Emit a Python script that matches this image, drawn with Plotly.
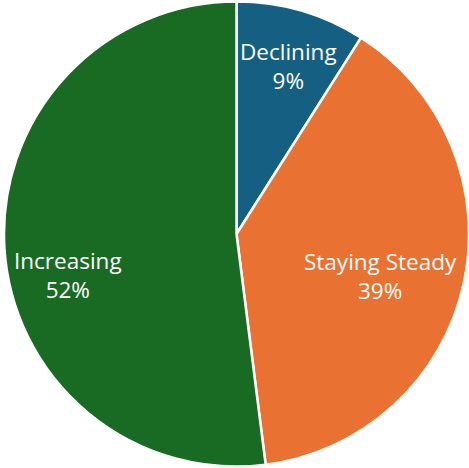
import plotly.graph_objects as go

labels = ["Declining", "Staying Steady", "Increasing"]
values = [9, 39, 52]
colors = ["#156082", "#E97132", "#196B24"]

W, H = 469, 468
# label block centres in pixels (layout only)
label_pos = [(288, 66), (380, 276), (68, 275)]

fig = go.Figure(go.Pie(
    labels=labels,
    values=values,
    sort=False,
    direction="clockwise",
    rotation=0,
    domain=dict(x=[4 / W, 1], y=[0, 1]),
    marker=dict(colors=colors, line=dict(color="white", width=2.5)),
    textinfo="none",
    showlegend=False,
    hoverinfo="skip",
))

total = sum(values)
for lab, val, (px, py) in zip(labels, values, label_pos):
    fig.add_annotation(
        x=px / W, y=1 - py / H, xref="paper", yref="paper",
        text=f"{lab}<br>{round(100 * val / total)}%",
        showarrow=False, xanchor="center", yanchor="middle",
        font=dict(family="Open Sans", size=22.5, color="white"),
    )

fig.update_layout(
    width=W, height=H,
    margin=dict(l=0, r=0, t=0, b=0),
    paper_bgcolor="white",
)
fig.write_html("out.html", post_script="document.body.style.margin='0';",
               config={"displayModeBar": False})
